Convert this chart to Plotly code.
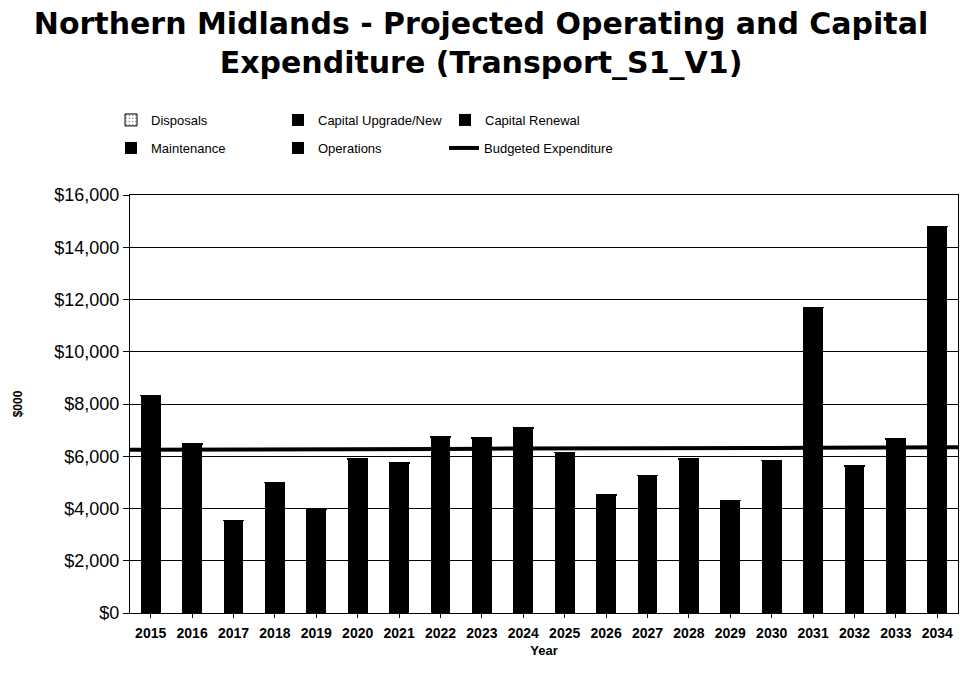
import plotly.graph_objects as go

years = [str(y) for y in range(2015, 2035)]

# Expenditure components ($000)
maintenance = [420, 410, 400, 410, 400, 420, 410, 430, 420, 430,
               410, 420, 410, 430, 420, 430, 420, 430, 420, 440]
operations = [2300, 2300, 2350, 2300, 2300, 2300, 2300, 2350, 2350, 2350,
              2350, 2350, 2350, 2400, 2400, 2400, 2400, 2400, 2450, 2450]
capital_renewal = [5450, 3650, 790, 2230, 1280, 3060, 2940, 3820, 3810, 4140,
                   3370, 1680, 2430, 2980, 1480, 2890, 8710, 2730, 3690, 11690]
capital_upgrade = [150, 100, 0, 50, 0, 100, 80, 120, 100, 150,
                   0, 50, 60, 80, 0, 100, 150, 60, 100, 200]
disposals = [20] * 20
budget = [6250, 6250, 6260, 6260, 6270, 6270, 6280, 6280, 6290, 6290,
          6300, 6300, 6310, 6310, 6320, 6320, 6330, 6330, 6340, 6340]

year_nums = list(range(2015, 2035))
FONT = "Liberation Sans, Arial, sans-serif"
W, H = 962, 676

fig = go.Figure()

# stacking order bottom -> top; legend rows: (Disposals, Upgrade, Renewal),
# (Maintenance, Operations) and the budget line in its own slot
stack = [
    ("Maintenance", maintenance, "black", "legend2", 1),
    ("Operations", operations, "black", "legend2", 2),
    ("Capital Renewal", capital_renewal, "black", "legend", 3),
    ("Capital Upgrade/New", capital_upgrade, "black", "legend", 2),
    ("Disposals", disposals, "white", "legend", 1),
]
for name, vals, col, lg, rank in stack:
    fig.add_trace(go.Bar(
        x=year_nums, y=vals, name=name, legend=lg, legendrank=rank,
        marker=dict(color=col, line=dict(color="black", width=1 if col == "white" else 0),
                    pattern=dict(shape="." if col == "white" else "", fgcolor="black", size=4)),
    ))

# budget line stretched to the plot edges
bx = [year_nums[0] - 0.5] + year_nums + [year_nums[-1] + 0.5]
by = [budget[0]] + budget + [budget[-1]]
fig.add_trace(go.Scatter(
    x=bx, y=by, mode="lines", name="Budgeted Expenditure", legend="legend3",
    line=dict(color="black", width=4),
))

legend_common = dict(
    orientation="h", traceorder="normal",
    xref="container", xanchor="left",
    yref="container", yanchor="middle",
    font=dict(family=FONT, size=13, color="black"),
    bgcolor="rgba(0,0,0,0)",
)

fig.update_layout(
    width=W, height=H,
    margin=dict(l=130, r=4, t=195, b=63),
    paper_bgcolor="white", plot_bgcolor="white",
    barmode="stack", bargap=0.52,
    title=dict(
        text="Northern Midlands - Projected Operating and Capital<br>Expenditure (Transport_S1_V1)",
        x=0.5, xanchor="center", xref="container",
        y=1 - 34 / H, yanchor="top", yref="container",
        font=dict(family="DejaVu Sans, Verdana, sans-serif", size=30, color="black", weight="bold"),
    ),
    legend=dict(legend_common, x=111 / W, y=1 - 120 / H,
                entrywidth=122, entrywidthmode="pixels"),
    legend2=dict(legend_common, x=111 / W, y=1 - 148 / H,
                 entrywidth=122, entrywidthmode="pixels"),
    legend3=dict(legend_common, x=444 / W, y=1 - 148 / H),
    showlegend=True,
)

fig.update_xaxes(
    type="linear", range=[2014.5, 2034.5],
    tickmode="array", tickvals=year_nums, ticktext=years,
    ticks="outside", ticklen=4, tickcolor="black", ticklabelstandoff=3,
    showline=True, linecolor="black", linewidth=1, mirror=True,
    showgrid=False,
    tickfont=dict(family=FONT, size=14, color="black", weight="bold"),
    title=dict(text="Year", font=dict(family=FONT, size=13, color="black", weight="bold"), standoff=6),
)
fig.update_yaxes(
    range=[0, 16000], dtick=2000, tickprefix="$", tickformat=",",
    ticks="outside", ticklen=6, tickcolor="black",
    showline=True, linecolor="black", linewidth=1, mirror=True,
    showgrid=True, gridcolor="black", gridwidth=1, zeroline=False,
    tickfont=dict(family=FONT, size=18, color="black"),
    title=dict(text="$000", font=dict(family=FONT, size=12, color="black", weight="bold"), standoff=29),
)

fig.write_html("out.html")
